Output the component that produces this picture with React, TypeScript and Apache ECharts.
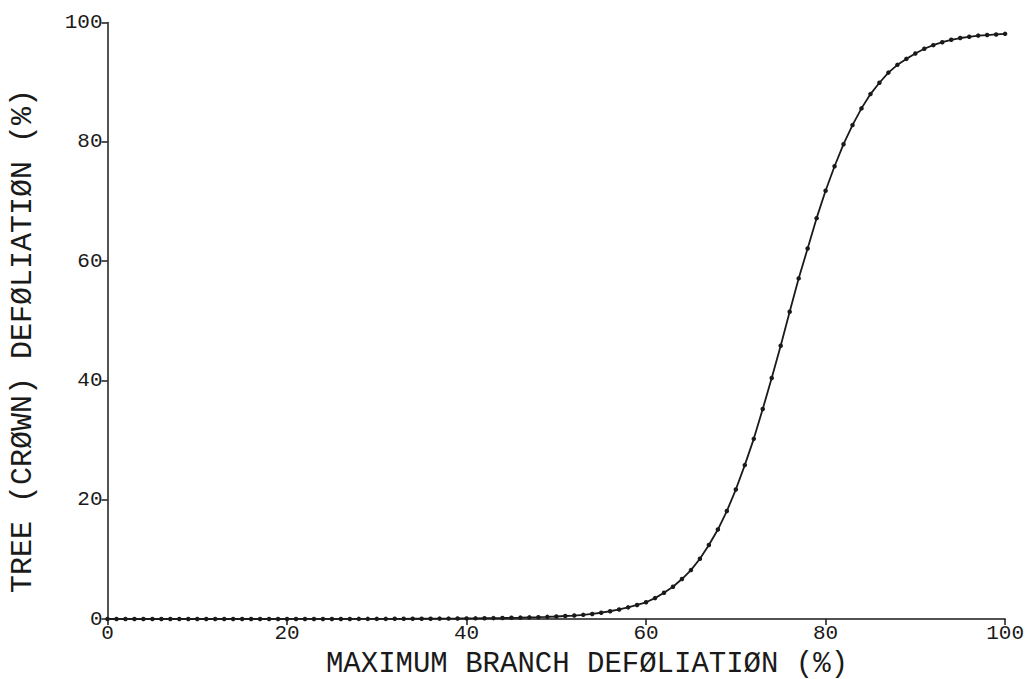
import React, { useEffect, useRef } from "react";
import * as echarts from "echarts";

const xValues: number[] = Array.from({ length: 101 }, (_, i) => i);
const yValues: number[] = [
  0, 0, 0, 0, 0, 0, 0, 0, 0, 0,
  0, 0, 0, 0, 0, 0, 0, 0, 0, 0,
  0.01, 0.01, 0.01, 0.01, 0.01, 0.01, 0.01, 0.01, 0.02, 0.02,
  0.02, 0.02, 0.03, 0.03, 0.04, 0.04, 0.05, 0.06, 0.07, 0.08,
  0.1, 0.11, 0.13, 0.15, 0.17, 0.2, 0.23, 0.27, 0.31, 0.36,
  0.42, 0.5, 0.58, 0.7, 0.85, 1.05, 1.3, 1.6, 1.95, 2.35,
  2.8, 3.5, 4.4, 5.4, 6.7, 8.2, 10.1, 12.4, 15.0, 18.1,
  21.7, 25.8, 30.2, 35.2, 40.4, 45.8, 51.5, 57.1, 62.1, 67.2,
  71.8, 75.9, 79.6, 82.8, 85.6, 88.0, 89.9, 91.6, 92.9, 93.9,
  94.8, 95.6, 96.2, 96.7, 97.1, 97.4, 97.6, 97.8, 97.9, 98.0,
  98.1,
];
const xTitle = "MAXIMUM BRANCH DEFØLIATIØN (%)";
const yTitle = "TREE (CRØWN) DEFØLIATIØN (%)";

const FONT = "'Liberation Mono', 'DejaVu Sans Mono', monospace";
const INK = "#1a1a1a";

export default function App() {
  const ref = useRef<HTMLDivElement>(null);
  useEffect(() => {
    if (!ref.current) return;
    const chart = echarts.init(ref.current, null, { renderer: "svg" });
    const axisCommon = {
      type: "value" as const,
      min: 0,
      max: 100,
      interval: 20,
      splitLine: { show: false },
      axisLine: { show: true, lineStyle: { color: INK, width: 1.5 } },
      axisTick: { show: true, inside: false, length: 6, lineStyle: { color: INK, width: 1.5 } },
      axisLabel: { color: INK, fontFamily: FONT, fontSize: 21, margin: 5 },
    };
    chart.setOption({
      animation: false,
      backgroundColor: "#ffffff",
      grid: { left: 107.5, right: 19.5, top: 22.5, bottom: 60, containLabel: false },
      xAxis: { ...axisCommon, axisLabel: { ...axisCommon.axisLabel, margin: 4 } },
      yAxis: { ...axisCommon },
      series: [
        {
          type: "line",
          data: xValues.map((x, i) => [x, yValues[i]]),
          symbol: "circle",
          symbolSize: 4.5,
          showSymbol: true,
          lineStyle: { color: INK, width: 1.8 },
          itemStyle: { color: INK },
        },
      ],
      graphic: [
        {
          type: "text",
          x: 587,
          y: 664,
          style: {
            text: xTitle,
            fontFamily: FONT,
            fontSize: 29,
            fill: INK,
            textAlign: "center",
            textVerticalAlign: "middle",
          },
        },
        {
          type: "text",
          x: 23,
          y: 341,
          rotation: Math.PI / 2,
          style: {
            text: yTitle,
            fontFamily: FONT,
            fontSize: 30,
            fill: INK,
            textAlign: "center",
            textVerticalAlign: "middle",
          },
        },
      ],
    });
    return () => chart.dispose();
  }, []);
  return (
    <div
      ref={ref}
      style={{ position: "absolute", left: 0, top: 0, width: 1027, height: 679 }}
    />
  );
}
